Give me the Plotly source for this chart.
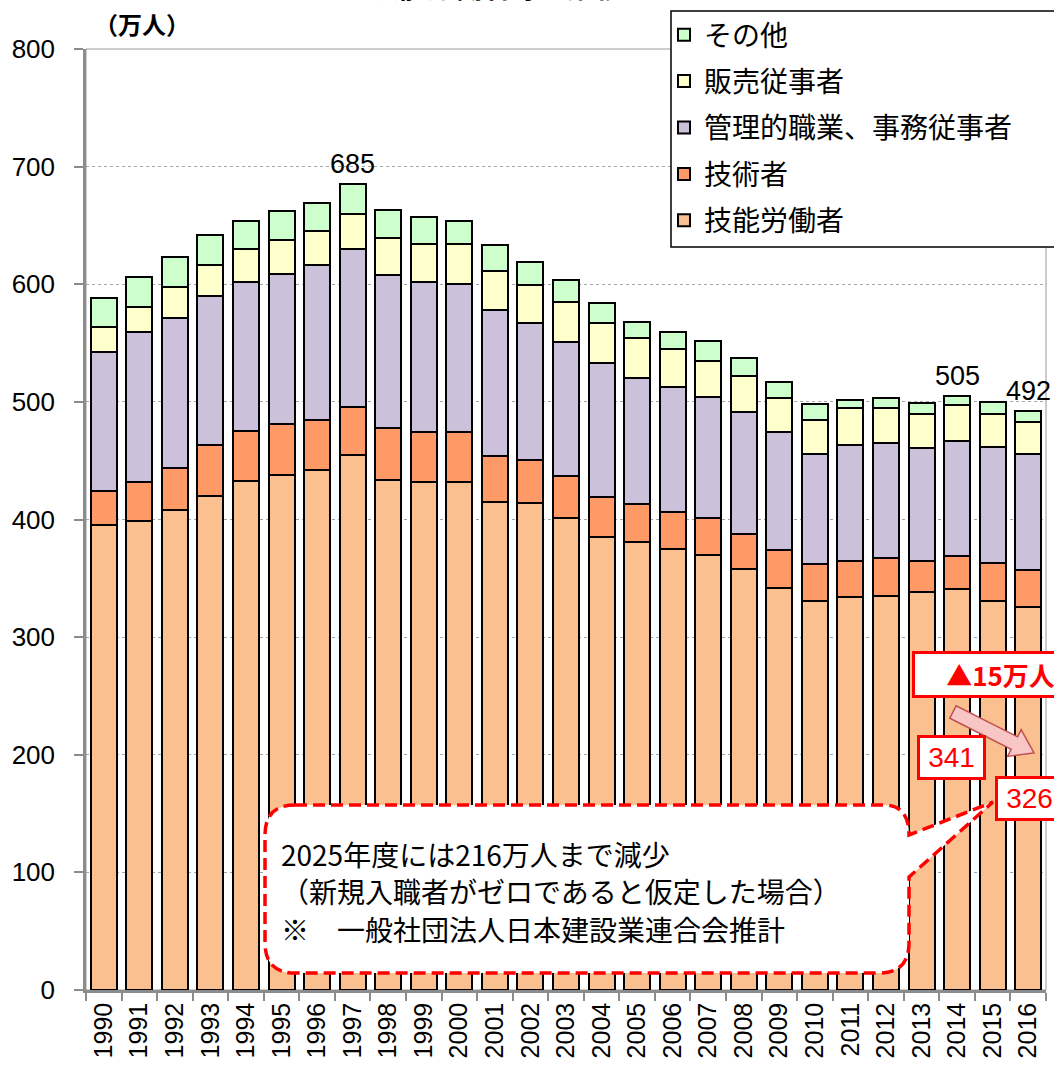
import plotly.graph_objects as go

# categories
years = ["1990", "1991", "1992", "1993", "1994", "1995", "1996", "1997", "1998", "1999",
         "2000", "2001", "2002", "2003", "2004", "2005", "2006", "2007", "2008", "2009",
         "2010", "2011", "2012", "2013", "2014", "2015", "2016"]

# series (万人)
skilled = [395, 399, 408, 420, 433, 438, 442, 455, 434, 432,
           432, 415, 414, 401, 385, 381, 375, 370, 358, 342,
           331, 334, 335, 338, 341, 331, 326]
technical = [29, 33, 36, 43, 42, 43, 43, 41, 44, 42,
             42, 39, 37, 36, 34, 32, 31, 31, 30, 32,
             31, 31, 32, 27, 28, 32, 31]
clerical = [118, 127, 127, 127, 127, 128, 131, 134, 130, 128,
            126, 124, 116, 114, 114, 107, 107, 103, 103, 100,
            94, 98, 98, 96, 98, 99, 99]
sales = [22, 22, 27, 26, 28, 29, 29, 30, 31, 32,
         34, 33, 32, 34, 34, 34, 32, 31, 31, 29,
         29, 32, 30, 29, 30, 28, 27]
other = [24, 25, 25, 26, 24, 24, 24, 25, 24, 23,
         20, 22, 20, 19, 17, 14, 14, 17, 15, 14,
         13, 7, 8, 9, 8, 10, 9]

series_names = ["技能労働者", "技術者", "管理的職業、事務従事者", "販売従事者", "その他"]
series_values = [skilled, technical, clerical, sales, other]
series_colors = ["#FAC090", "#FF9966", "#CCC1DA", "#FFFFCC", "#CCFFCC"]

total_label_years = ["1997", "2014", "2016"]
note_lines = ["2025年度には216万人まで減少",
              "（新規入職者がゼロであると仮定した場合）",
              "※　一般社団法人日本建設業連合会推計"]

JP = "Noto Sans CJK JP"
NUM = "Liberation Sans, Arial"

# plot-area geometry in pixels (used to place decorations)
ML, MT, PW, PH = 86, 49, 960, 941


def px(x):
    return (x - ML) / PW


def py(y):
    return (MT + PH - y) / PH


fig = go.Figure()
for k, (name, vals, col) in enumerate(zip(series_names, series_values, series_colors)):
    fig.add_trace(go.Bar(
        x=years, y=vals, name=name, legendgroup=name, legendrank=len(series_names) - k,
        marker=dict(color=col, line=dict(color="black", width=2)),
    ))

totals = [sum(v) for v in zip(*series_values)]

annotations = []
for yr in total_label_years:
    i = years.index(yr)
    annotations.append(dict(x=i, y=totals[i], text=str(totals[i]), showarrow=False,
                            yanchor="bottom", yshift=3, font=dict(family=NUM, size=27)))

# unit + (cropped) title
annotations.append(dict(xref="paper", yref="paper", x=px(142), y=py(23), xanchor="center", yanchor="middle",
                        text="<b>（万人）</b>", showarrow=False,
                        font=dict(family=JP, size=24, color="black")))
annotations.append(dict(xref="paper", yref="paper", x=px(497), y=py(-14), xanchor="center", yanchor="middle",
                        text="<b>【技能労働者等の推移】</b>", showarrow=False,
                        font=dict(family=JP, size=28)))

# red boxes
i14, i16 = years.index("2014"), years.index("2016")
annotations.append(dict(xref="paper", yref="paper", x=px(912), y=py(674), xanchor="left", yanchor="middle",
                        text="<b>▲%d万人</b>" % (skilled[i14] - skilled[i16]), showarrow=False,
                        width=165, height=35, borderpad=3, borderwidth=3, bordercolor="#FF0000",
                        bgcolor="white", font=dict(family=JP, size=26, color="#FF0000")))
annotations.append(dict(x=i14, xshift=-6, yref="paper", y=py(757), yanchor="middle", text=str(skilled[i14]),
                        showarrow=False, width=57, height=33, borderpad=3, borderwidth=3,
                        bordercolor="#FF0000", bgcolor="white",
                        font=dict(family="Liberation Sans Narrow, Liberation Sans", size=28, color="#FF0000")))
annotations.append(dict(x=i16, xshift=1, yref="paper", y=py(798), yanchor="middle", text=str(skilled[i16]),
                        showarrow=False, width=57, height=33, borderpad=3, borderwidth=3,
                        bordercolor="#FF0000", bgcolor="white",
                        font=dict(family="Liberation Sans Narrow, Liberation Sans", size=28, color="#FF0000")))

# callout text
for line, ypix in zip(note_lines, [854, 891, 929]):
    annotations.append(dict(xref="paper", yref="paper", x=px(279), y=py(ypix), xanchor="left", yanchor="middle",
                            text=line, showarrow=False, font=dict(family=JP, size=28, color="black")))


def path(points, close=True):
    s = "M" + " L".join("%.5f,%.5f" % (px(a), py(b)) for a, b in points)
    return s + (" Z" if close else "")


# callout bubble (rounded rect with a tail)
L, T, R, B, r = 265, 805, 909, 973, 30
bubble = ("M%.5f,%.5f L%.5f,%.5f Q%.5f,%.5f %.5f,%.5f L%.5f,%.5f L%.5f,%.5f L%.5f,%.5f "
          "Q%.5f,%.5f %.5f,%.5f L%.5f,%.5f Q%.5f,%.5f %.5f,%.5f L%.5f,%.5f Q%.5f,%.5f %.5f,%.5f Z") % (
    px(L + r), py(T), px(R - r + 5), py(T), px(R), py(T), px(R), py(T + r),
    px(993), py(802), px(R), py(877), px(R), py(B - r),
    px(R), py(B), px(R - r), py(B), px(L + r), py(B),
    px(L), py(B), px(L), py(B - r), px(L), py(T + r),
    px(L), py(T), px(L + r), py(T))

# block arrow from the ▲ box toward 326
tx, ty, hx, hy = 953, 712, 1034, 753
dx, dy = hx - tx, hy - ty
ln = (dx * dx + dy * dy) ** 0.5
ux, uy = dx / ln, dy / ln
nx, ny = -uy, ux
sw, hw, hl = 7, 15, 22
bx, by = hx - ux * hl, hy - uy * hl
arrow_pts = [(tx + nx * sw, ty + ny * sw), (bx + nx * sw, by + ny * sw), (bx + nx * hw, by + ny * hw),
             (hx, hy), (bx - nx * hw, by - ny * hw), (bx - nx * sw, by - ny * sw),
             (tx - nx * sw, ty - ny * sw)]

shapes = [
    dict(type="rect", xref="paper", yref="paper", x0=0, x1=1, y0=0, y1=1,
         line=dict(color="#9a9a9a", width=1), layer="below"),
    dict(type="rect", xref="paper", yref="paper", x0=px(671), x1=px(1075), y0=py(247), y1=py(11),
         line=dict(color="black", width=1.5), fillcolor="white", layer="above"),
    dict(type="path", xref="paper", yref="paper", path=bubble, fillcolor="white",
         line=dict(color="#FF0000", width=3.5, dash="12px,6px"), layer="above"),
    dict(type="path", xref="paper", yref="paper", path=path(arrow_pts), fillcolor="#F9C6C6",
         line=dict(color="#C0504D", width=1.5), layer="above"),
]

fig.update_layout(
    width=1054, height=1070,
    margin=dict(l=ML, r=1054 - ML - PW, t=MT, b=1070 - MT - PH),
    barmode="stack", bargap=0.27,
    plot_bgcolor="white", paper_bgcolor="white",
    font=dict(family=NUM, color="black"),
    legend=dict(x=px(664), y=py(10), xanchor="left", yanchor="top",
                bgcolor="rgba(0,0,0,0)", borderwidth=0,
                font=dict(family=JP, size=28, color="black"),
                traceorder="grouped", tracegroupgap=7),
    xaxis=dict(type="category", range=[-0.5, len(years) - 0.5], showline=True,
               linecolor="#8c8c8c", linewidth=2.5,
               ticks="outside", tickson="boundaries", ticklen=8, tickcolor="#8c8c8c", tickwidth=1.5,
               tickangle=-90, tickfont=dict(family=NUM, size=25)),
    yaxis=dict(range=[0, 800], dtick=100, showgrid=True, gridcolor="#a6a6a6", gridwidth=1,
               griddash="3px,3px", zeroline=False, showline=True, linecolor="#8c8c8c", linewidth=2.5,
               ticks="outside", ticklen=9, tickcolor="#8c8c8c", tickwidth=1.5,
               ticklabelstandoff=14, tickfont=dict(family=NUM, size=26)),
    annotations=annotations, shapes=shapes,
)

fig.write_html("out.html", config={"displayModeBar": False},
               post_script="document.body.style.margin='0';")
